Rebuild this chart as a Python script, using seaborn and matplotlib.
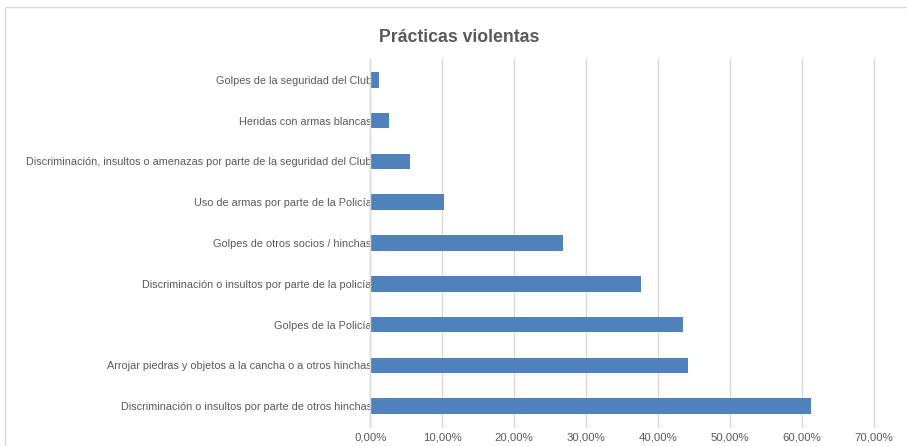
import matplotlib
matplotlib.use("Agg")
import matplotlib.pyplot as plt
import seaborn as sns
import pandas as pd
from matplotlib.ticker import FuncFormatter
from matplotlib.patches import Rectangle

practicas = [
    "Golpes de la seguridad del Club",
    "Heridas con armas blancas",
    "Discriminación, insultos o amenazas por parte de la seguridad del Club",
    "Uso de armas por parte de la Policía",
    "Golpes de otros socios / hinchas",
    "Discriminación o insultos por parte de la policía",
    "Golpes de la Policía",
    "Arrojar piedras y objetos a la cancha o a otros hinchas",
    "Discriminación o insultos por parte de otros hinchas",
]
porcentajes = [0.012, 0.026, 0.055, 0.102, 0.268, 0.376, 0.435, 0.442, 0.613]

df = pd.DataFrame({"practica": practicas, "pct": porcentajes})

sns.set_style("white")
plt.rcParams["font.family"] = ["Liberation Sans", "DejaVu Sans"]

fig = plt.figure(figsize=(9.07, 4.46), dpi=100)
ax = fig.add_axes([0.4083, 0.0437, 0.9632 - 0.4083, 0.8666 - 0.0437])

sns.barplot(data=df, x="pct", y="practica", orient="h", color="#4f81bd",
            width=0.38, saturation=1, linewidth=0, ax=ax)

ax.set_xlim(0, 0.7)
ax.set_xticks([i / 10 for i in range(8)])
ax.xaxis.set_major_formatter(FuncFormatter(lambda v, p: f"{v*100:.2f}%".replace(".", ",")))
ax.grid(axis="x", color="#d9d9d9", linewidth=1)
for gl in ax.get_xgridlines():
    gl.set_clip_on(False)
ax.set_axisbelow(True)
for s in ["top", "right", "bottom"]:
    ax.spines[s].set_visible(False)
ax.spines["left"].set_color("#d9d9d9")
ax.spines["left"].set_linewidth(1)
ax.tick_params(axis="y", length=0, pad=-1, labelsize=7.85, labelcolor="#595959")
ax.tick_params(axis="x", length=0, pad=4, labelsize=8.2, labelcolor="#595959")
ax.set_xlabel("")
ax.set_ylabel("")

fig.text(0.506, 0.916, "Prácticas violentas", ha="center", va="center",
         fontsize=12.7, fontweight="bold", color="#595959")

# borde del área del gráfico
fig.patches.append(Rectangle((5 / 907, -0.01), 1.0, 1 - 7 / 446 + 0.01,
                             transform=fig.transFigure, fill=False,
                             edgecolor="#d9d9d9", linewidth=1))

fig.savefig("out.png", dpi=100)
